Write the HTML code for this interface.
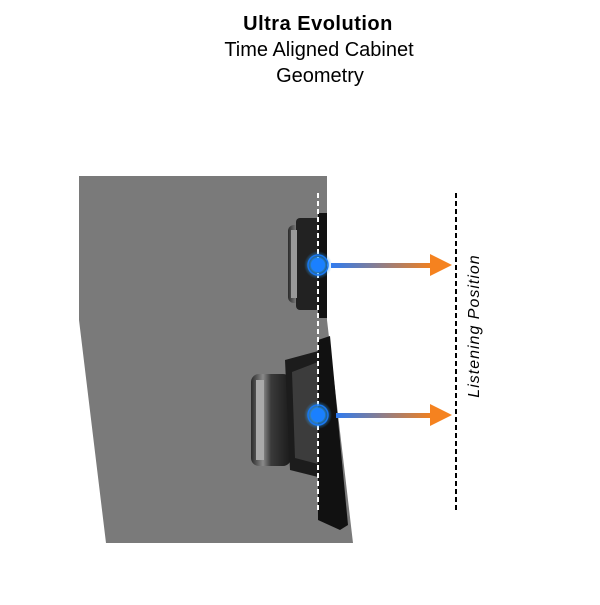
<!DOCTYPE html>
<html><head><style>
body{margin:0;background:#fff;width:600px;height:600px;overflow:hidden;}
</style></head><body>
<svg width="600" height="600" viewBox="0 0 600 600" xmlns="http://www.w3.org/2000/svg">
<defs>
<linearGradient id="ar" x1="0" x2="1"><stop offset="0" stop-color="#2f7bf0"/><stop offset="1" stop-color="#f08020"/></linearGradient>
<linearGradient id="mag" x1="0" x2="1"><stop offset="0" stop-color="#2a2a2a"/><stop offset="0.3" stop-color="#8a8a8a"/><stop offset="0.5" stop-color="#3a3a3a"/><stop offset="1" stop-color="#1a1a1a"/></linearGradient>
<radialGradient id="glow"><stop offset="0.4" stop-color="#2aa0ff" stop-opacity="0.9"/><stop offset="1" stop-color="#2aa0ff" stop-opacity="0"/></radialGradient>
</defs>
<text x="318" y="30" text-anchor="middle" font-family="Liberation Sans, sans-serif" font-weight="bold" font-size="20" letter-spacing="0.5">Ultra Evolution</text>
<text x="319" y="56" text-anchor="middle" font-family="Liberation Sans, sans-serif" font-size="20">Time Aligned Cabinet</text>
<text x="320" y="82" text-anchor="middle" font-family="Liberation Sans, sans-serif" font-size="20">Geometry</text>
<polygon points="79,176 327,176 327,320 353,543 106,543 79,320" fill="#7a7a7a"/>
<!-- tweeter -->
<rect x="288" y="225" width="32" height="78" rx="6" fill="url(#mag)"/>
<rect x="296" y="218" width="24" height="92" rx="4" fill="#222"/>
<rect x="291" y="230" width="6" height="68" fill="#999"/>
<rect x="318" y="213" width="9" height="105" fill="#111"/>
<!-- woofer -->
<rect x="251" y="374" width="40" height="92" rx="8" fill="url(#mag)"/>
<rect x="256" y="380" width="8" height="80" fill="#aaa"/>
<polygon points="285,360 322,350 322,478 290,470" fill="#1c1c1c"/>
<polygon points="292,372 318,362 318,464 295,458" fill="#3c3c3c"/>
<polygon points="318,340 330,336 348,525 340,530 318,520" fill="#111"/>
<line x1="318" y1="193" x2="318" y2="512" stroke="#fff" stroke-width="2" stroke-dasharray="5,3"/>
<line x1="456" y1="193" x2="456" y2="512" stroke="#000" stroke-width="2" stroke-dasharray="5,3"/>
<rect x="331" y="263" width="100" height="5" fill="url(#ar)"/>
<polygon points="430,254 452,265 430,276" fill="#f5821f"/>
<rect x="336" y="413" width="95" height="5" fill="url(#ar)"/>
<polygon points="430,404 452,415 430,426" fill="#f5821f"/>
<circle cx="318" cy="265" r="14" fill="url(#glow)"/>
<circle cx="318" cy="265" r="10" fill="none" stroke="#1877f2" stroke-width="1.5"/>
<circle cx="318" cy="265" r="7" fill="#1a80ff"/>
<circle cx="318" cy="415" r="14" fill="url(#glow)"/>
<circle cx="318" cy="415" r="10" fill="none" stroke="#1877f2" stroke-width="1.5"/>
<circle cx="318" cy="415" r="7" fill="#1a80ff"/>
<text transform="translate(479,326) rotate(-90)" text-anchor="middle" font-family="Liberation Sans, sans-serif" font-style="italic" font-size="16" letter-spacing="1">Listening  Position</text>
</svg>
</body></html>
